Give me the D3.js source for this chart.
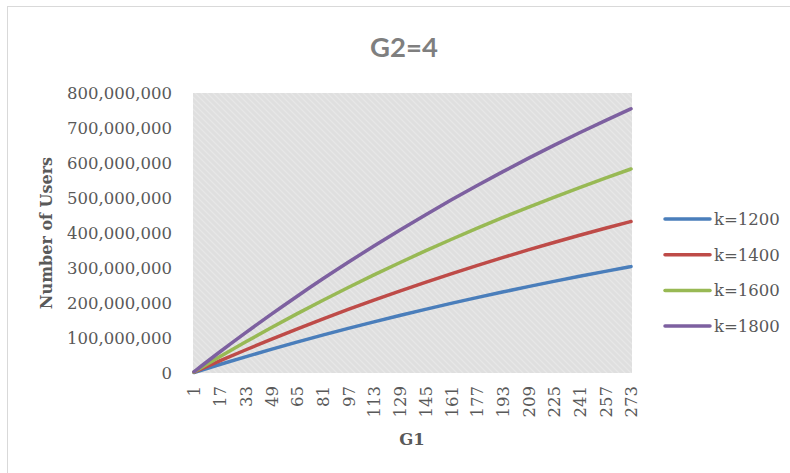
<!DOCTYPE html>
<html>
<head>
<meta charset="utf-8">
<script src="https://cdn.jsdelivr.net/npm/d3@7"></script>
<style>
  html, body { margin: 0; padding: 0; background: #fff; }
  svg { display: block; }
</style>
</head>
<body>
<svg id="chart" width="790" height="473"></svg>
<script>
// G1 sample points (category axis shows every 16th value)
const g1 = [1, 17, 33, 49, 65, 81, 97, 113, 129, 145, 161, 177, 193, 209, 225, 241, 257, 273];
const xTickLabels = g1.map(String);

// Number of users (millions) for each k, sampled at the G1 values above
const seriesNames = ["k=1200", "k=1400", "k=1600", "k=1800"];
const usersK1200 = [1.4, 24.2, 46.1, 67.5, 88.1, 108.1, 127.4, 146.2, 164.3, 181.9, 198.9, 215.4, 231.4, 246.8, 261.8, 276.3, 290.4, 304];
const usersK1400 = [2.1, 34.4, 65.7, 96.1, 125.4, 153.9, 181.5, 208.2, 234.0, 259.1, 283.4, 306.8, 329.6, 351.6, 372.9, 393.6, 413.6, 433];
const usersK1600 = [2.8, 46.3, 88.5, 129.4, 168.9, 207.3, 244.3, 280.3, 315.1, 348.8, 381.5, 413.1, 443.7, 473.4, 502.1, 529.9, 556.9, 583];
const usersK1800 = [3.6, 60.0, 114.6, 167.5, 218.7, 268.4, 316.4, 363.0, 408.1, 451.7, 494.1, 535.0, 574.6, 613.1, 650.3, 686.3, 721.2, 755];
const yTicks = [0, 100e6, 200e6, 300e6, 400e6, 500e6, 600e6, 700e6, 800e6];

const colors = ["#4A7EBB", "#BE4B48", "#98B954", "#7D60A0"];
const series = [usersK1200, usersK1400, usersK1600, usersK1800].map((vals, i) => ({
  name: seriesNames[i],
  color: colors[i],
  points: vals.map((v, j) => ({ x: g1[j], y: v * 1e6 }))
}));

const svg = d3.select("#chart");
const serif = "'DejaVu Serif', 'Liberation Serif', serif";
const plot = { left: 193, top: 93, right: 632, bottom: 373 };

// chart frame
svg.append("rect")
  .attr("x", 7.5).attr("y", 6.5)
  .attr("width", 900).attr("height", 600)
  .attr("fill", "none").attr("stroke", "#d9d9d9").attr("stroke-width", 1);

// hatched plot-area fill
const defs = svg.append("defs");
const pat = defs.append("pattern")
  .attr("id", "hatch").attr("patternUnits", "userSpaceOnUse")
  .attr("width", 6).attr("height", 6);
pat.append("rect").attr("width", 6).attr("height", 6).attr("fill", "#dfdfdf");
pat.append("path").attr("d", "M-1,-1 L7,7 M-1,5 L1,7 M5,-1 L7,1")
  .attr("stroke", "#e7e7e7").attr("stroke-width", 1.3);

svg.append("rect")
  .attr("x", plot.left).attr("y", plot.top)
  .attr("width", plot.right - plot.left).attr("height", plot.bottom - plot.top)
  .attr("fill", "url(#hatch)");

const x = d3.scaleLinear().domain([1, 273]).range([plot.left + 1, plot.right - 1]);
const y = d3.scaleLinear().domain([0, 800e6]).range([plot.bottom, plot.top]);

// title
svg.append("text")
  .attr("x", 404).attr("y", 57)
  .attr("text-anchor", "middle")
  .attr("font-family", "Lato, 'Open Sans', sans-serif")
  .attr("font-weight", "bold").attr("font-size", 27.5)
  .attr("fill", "#7f7f7f")
  .text("G2=4");

// y axis
const yAxis = d3.axisLeft(y).tickValues(yTicks).tickSize(0).tickPadding(0)
  .tickFormat(d3.format(","));
const gy = svg.append("g").attr("transform", `translate(${plot.left - 21},0)`).call(yAxis);
gy.select(".domain").remove();
gy.selectAll("text")
  .attr("font-family", serif).attr("font-size", 16.5).attr("fill", "#595959")
  .attr("dy", "0.36em");

// x axis
const xAxis = d3.axisBottom(x).tickValues(g1).tickSize(0).tickPadding(0)
  .tickFormat((d, i) => xTickLabels[i]);
const gx = svg.append("g").attr("transform", `translate(0,${plot.bottom})`).call(xAxis);
gx.select(".domain").remove();
gx.selectAll("text")
  .attr("font-family", serif).attr("font-size", 16.5).attr("fill", "#595959")
  .attr("text-anchor", "end")
  .attr("transform", "rotate(-90)")
  .attr("x", -13).attr("y", 0).attr("dy", "0.36em");

// axis titles
svg.append("text")
  .attr("transform", "translate(52,233) rotate(-90)")
  .attr("text-anchor", "middle")
  .attr("font-family", serif).attr("font-weight", "bold").attr("font-size", 16)
  .attr("fill", "#595959")
  .text("Number of Users");

svg.append("text")
  .attr("x", 412).attr("y", 445)
  .attr("text-anchor", "middle")
  .attr("font-family", serif).attr("font-weight", "bold").attr("font-size", 16.5)
  .attr("fill", "#595959")
  .text("G1");

// series lines
const line = d3.line().x(d => x(d.x)).y(d => y(d.y)).curve(d3.curveMonotoneX);
svg.append("g").selectAll("path").data(series).join("path")
  .attr("d", d => line(d.points))
  .attr("fill", "none")
  .attr("stroke", d => d.color)
  .attr("stroke-width", 3.5)
  .attr("stroke-linecap", "round")
  .attr("stroke-linejoin", "round");

// legend
const legend = svg.append("g").selectAll("g").data(series).join("g")
  .attr("transform", (d, i) => `translate(665,${219 + i * 35.7})`);
legend.append("line")
  .attr("x1", 0).attr("x2", 45).attr("y1", 0).attr("y2", 0)
  .attr("stroke", d => d.color).attr("stroke-width", 3.5)
  .attr("stroke-linecap", "round");
legend.append("text")
  .attr("x", 49).attr("y", 0).attr("dy", "0.36em")
  .attr("font-family", serif).attr("font-size", 16.5).attr("fill", "#595959")
  .text(d => d.name);
</script>
</body>
</html>
